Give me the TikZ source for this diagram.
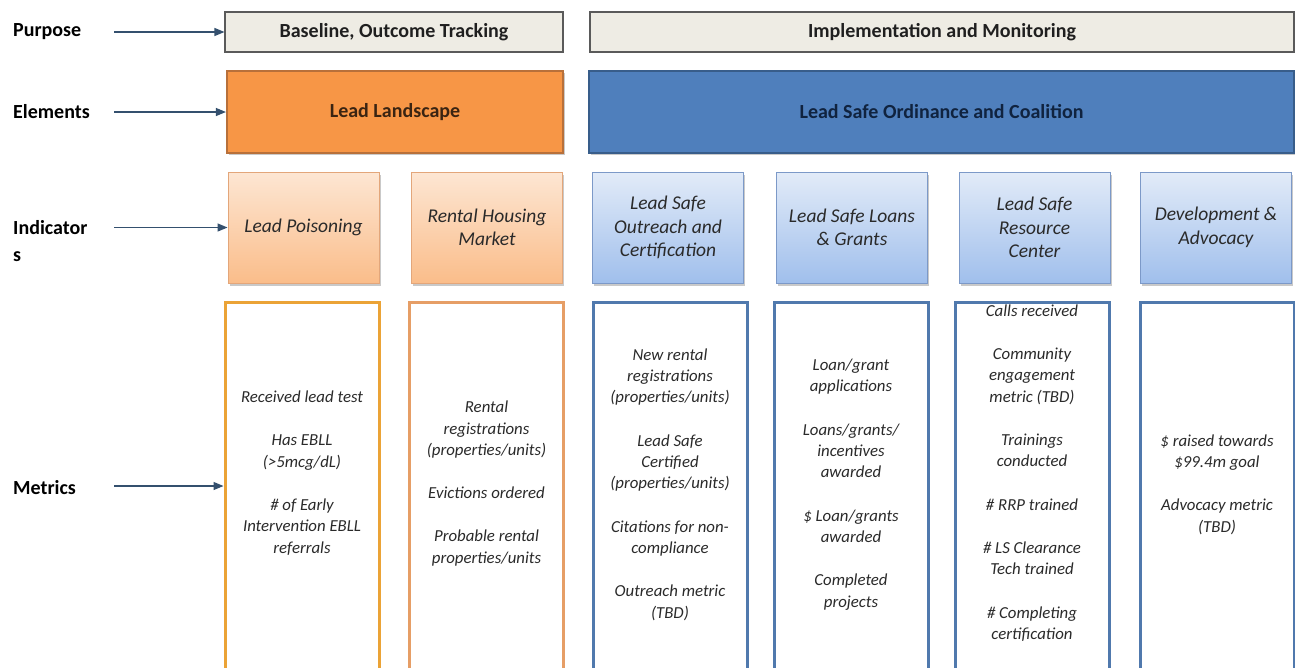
\documentclass[tikz,border=0pt]{standalone}
\usepackage{fontspec}
\setmainfont{Carlito}
\usetikzlibrary{arrows.meta,shadows}
\definecolor{arrowc}{HTML}{34506E}
\definecolor{purpfill}{HTML}{EEECE4}
\definecolor{purpdraw}{HTML}{5A5A5A}
\definecolor{orfill}{HTML}{F79646}
\definecolor{ordraw}{HTML}{B8703A}
\definecolor{ortext}{HTML}{3A2412}
\definecolor{blfill}{HTML}{4F7FBC}
\definecolor{bldraw}{HTML}{385D8A}
\definecolor{bltext}{HTML}{10233F}
\definecolor{ortop}{HTML}{FDE6D3}
\definecolor{orbot}{HTML}{FABD8A}
\definecolor{orind}{HTML}{E3A67A}
\definecolor{bltop}{HTML}{E2EBF8}
\definecolor{blbot}{HTML}{A0BFEC}
\definecolor{blind}{HTML}{7C99C8}
\definecolor{mgold}{HTML}{EBA336}
\definecolor{morange}{HTML}{E69E66}
\definecolor{mblue}{HTML}{5079AD}
\definecolor{txt}{HTML}{2A2A2A}
\tikzset{
  lab/.style={anchor=west, inner sep=0, font=\fontsize{20}{27}\selectfont\bfseries, text=black, align=left},
  arr/.style={draw=arrowc, line width=1.2pt, -{Triangle[length=10pt,width=8pt]}},
  purp/.style={draw=purpdraw, fill=purpfill, line width=1.1pt, font=\fontsize{20}{24}\selectfont\bfseries, text=black!88, minimum height=40},
  elem/.style={line width=2.2pt, font=\fontsize{20}{24}\selectfont\bfseries, minimum height=82,
     drop shadow={shadow xshift=1.5pt, shadow yshift=-2pt, opacity=0.35, fill=black!60}},
  ind/.style={line width=0.9pt, minimum width=151, minimum height=111, align=center,
     font=\fontsize{19.5}{23.5}\selectfont\itshape, text=txt,
     drop shadow={shadow xshift=1.5pt, shadow yshift=-2.5pt, opacity=0.35, fill=black!60}},
  indor/.style={ind, draw=orind, top color=ortop, bottom color=orbot},
  indbl/.style={ind, draw=blind, top color=bltop, bottom color=blbot},
  met/.style={fill=white, line width=3pt, minimum width=154, minimum height=388},
  mtext/.style={align=center, inner sep=0, font=\fontsize{16.8}{21.3}\selectfont\itshape, text=txt}
}
\begin{document}
\begin{tikzpicture}[x=1pt,y=-1pt]
\useasboundingbox (0,0) rectangle (1295,667);
\clip (0,0) rectangle (1295,667);
\fill[white] (0,0) rectangle (1295,667);

% row labels
\node[lab] (lpurp) at (13,32) {Purpose};
\node[lab] (lelem) at (13,112) {Elements};
\node[lab] (lind) at (13,241) {Indicator\\s};
\node[lab] (lmet) at (13,488) {Metrics};

% purpose
\node[purp, minimum width=338] (p1) at (394,32) {Baseline, Outcome Tracking};
\node[purp, minimum width=704] (p2) at (942,32) {Implementation and Monitoring};

% elements
\node[elem, draw=ordraw, fill=orfill, text=ortext, minimum width=336] (e1) at (395,112) {Lead Landscape};
\node[elem, draw=bldraw, fill=blfill, text=bltext, minimum width=705] (e2) at (941.5,112) {Lead Safe Ordinance and Coalition};

% indicators
\node[indor] (i1) at (303.5,227.5) {Lead Poisoning};
\node[indor] (i2) at (487,227.5) {Rental Housing\\Market};
\node[indbl] (i3) at (668,227.5) {Lead Safe\\Outreach and\\Certification};
\node[indbl] (i4) at (852,227.5) {Lead Safe Loans\\\& Grants};
\node[indbl] (i5) at (1034.5,227.5) {Lead Safe\\Resource\\Center};
\node[indbl] (i6) at (1216,227.5) {Development \&\\Advocacy};

% metrics boxes
\node[met, draw=mgold] (m1) at (302,496) {};
\node[met, draw=morange] (m2) at (486.5,496) {};
\node[met, draw=mblue] (m3) at (670,496) {};
\node[met, draw=mblue] (m4) at (851,496) {};
\node[met, draw=mblue] (m5) at (1032,496) {};
\node[met, draw=mblue] (m6) at (1217,496) {};

\node[mtext] (t1) at (302,473) {Received lead test\\[22pt]Has EBLL\\(>5mcg/dL)\\[22pt]\# of Early\\Intervention EBLL\\referrals};
\node[mtext] (t2) at (486.5,483.5) {Rental\\registrations\\(properties/units)\\[22pt]Evictions ordered\\[22pt]Probable rental\\properties/units};
\node[mtext] (t3) at (670,484.5) {New rental\\registrations\\(properties/units)\\[22pt]Lead Safe\\Certified\\(properties/units)\\[22pt]Citations for non-\\compliance\\[22pt]Outreach metric\\(TBD)};
\node[mtext] (t4) at (851,484.5) {Loan/grant\\applications\\[22pt]Loans/grants/\\incentives\\awarded\\[22pt]\$ Loan/grants\\awarded\\[22pt]Completed\\projects};
\node[mtext] (t5) at (1032,473) {Calls received\\[22pt]Community\\engagement\\metric (TBD)\\[22pt]Trainings\\conducted\\[22pt]\# RRP trained\\[22pt]\# LS Clearance\\Tech trained\\[22pt]\# Completing\\certification};
\node[mtext] (t6) at (1217,484.5) {\$ raised towards\\\$99.4m goal\\[22pt]Advocacy metric\\(TBD)};

% arrows
\coordinate (a1) at (114,32);
\coordinate (a2) at (114,112);
\coordinate (a3) at (114,227.5);
\coordinate (a4) at (114,486);
\draw[arr] (a1) -- (p1.west |- a1);
\draw[arr] (a2) -- (e1.west |- a2);
\draw[arr] (a3) -- (i1.west |- a3);
\draw[arr] (a4) -- (m1.west |- a4);
\end{tikzpicture}
\end{document}
